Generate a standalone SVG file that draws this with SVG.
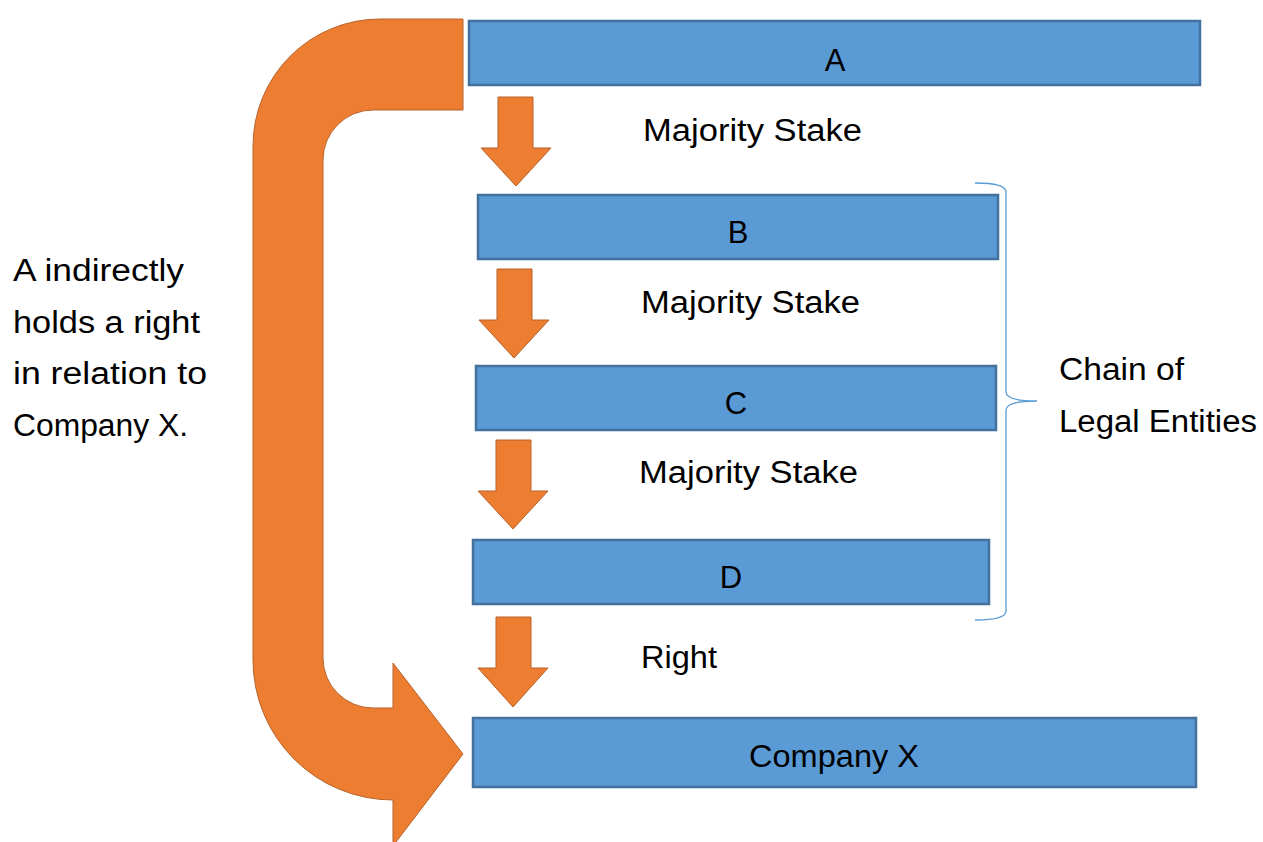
<svg xmlns="http://www.w3.org/2000/svg" width="1263" height="842" viewBox="0 0 1263 842">
<style>
.box{fill:#5B9BD5;stroke:#41719C;stroke-width:2.5}
.arr{fill:#ED7D31;stroke:#B7622A;stroke-width:1}
.t{font-family:"Liberation Sans",Arial,sans-serif;font-size:31px;fill:#000}
.c{text-anchor:middle}
</style>
<rect width="1263" height="842" fill="#fff"/>
<g id="connectors">
<path id="bigArrow" class="arr" d="M463,19 L380,19 A127,127 0 0 0 253,146 L253,660 A140,140 0 0 0 393,800 L393,846 L463,754 L393,663 L393,708 L373,708 A50,50 0 0 1 323,658 L323,160 A50,50 0 0 1 373,110 L463,110 Z"/>
<polygon class="arr" points="498,97 533,97 533,148 551,148 516,186 481,148 498,148"/>
<polygon class="arr" points="497,269 532,269 532,320 549,320 514,358 479,320 497,320"/>
<polygon class="arr" points="496,440 531,440 531,491 548,491 513,529 478,491 496,491"/>
<polygon class="arr" points="496,617 531,617 531,668 548,668 513,707 478,668 496,668"/>
<path id="brace" d="M975,183 Q1006,183 1006,192 L1006,392 Q1006,401 1037,401 Q1006,401 1006,410 L1006,611 Q1006,620 975,620" fill="none" stroke="#5B9BD5" stroke-width="1.3"/>
</g>
<g id="nodeA"><rect class="box" x="469" y="21" width="731" height="64"/><text class="t c" x="835" y="71">A</text></g>
<g id="nodeB"><rect class="box" x="478" y="195" width="520" height="64"/><text class="t c" x="738" y="243">B</text></g>
<g id="nodeC"><rect class="box" x="476" y="366" width="520" height="64"/><text class="t c" x="736" y="414">C</text></g>
<g id="nodeD"><rect class="box" x="473" y="540" width="516" height="64"/><text class="t c" x="731" y="588">D</text></g>
<g id="nodeX"><rect class="box" x="473" y="718" width="723" height="69"/><text class="t c" x="834" y="767" textLength="170" lengthAdjust="spacingAndGlyphs">Company X</text></g>
<g id="labels">
<text class="t" x="643" y="141" textLength="219" lengthAdjust="spacingAndGlyphs">Majority Stake</text>
<text class="t" x="641" y="313" textLength="219" lengthAdjust="spacingAndGlyphs">Majority Stake</text>
<text class="t" x="639" y="483" textLength="219" lengthAdjust="spacingAndGlyphs">Majority Stake</text>
<text class="t" x="641" y="668" textLength="76" lengthAdjust="spacingAndGlyphs">Right</text>
<text class="t" x="1059" y="380" textLength="125" lengthAdjust="spacingAndGlyphs">Chain of</text>
<text class="t" x="1059" y="432" textLength="198" lengthAdjust="spacingAndGlyphs">Legal Entities</text>
<text class="t" x="13" y="281" textLength="171" lengthAdjust="spacingAndGlyphs">A indirectly</text>
<text class="t" x="13" y="333" textLength="187" lengthAdjust="spacingAndGlyphs">holds a right</text>
<text class="t" x="13" y="384" textLength="194" lengthAdjust="spacingAndGlyphs">in relation to</text>
<text class="t" x="13" y="436" textLength="175" lengthAdjust="spacingAndGlyphs">Company X.</text>
</g>
</svg>
